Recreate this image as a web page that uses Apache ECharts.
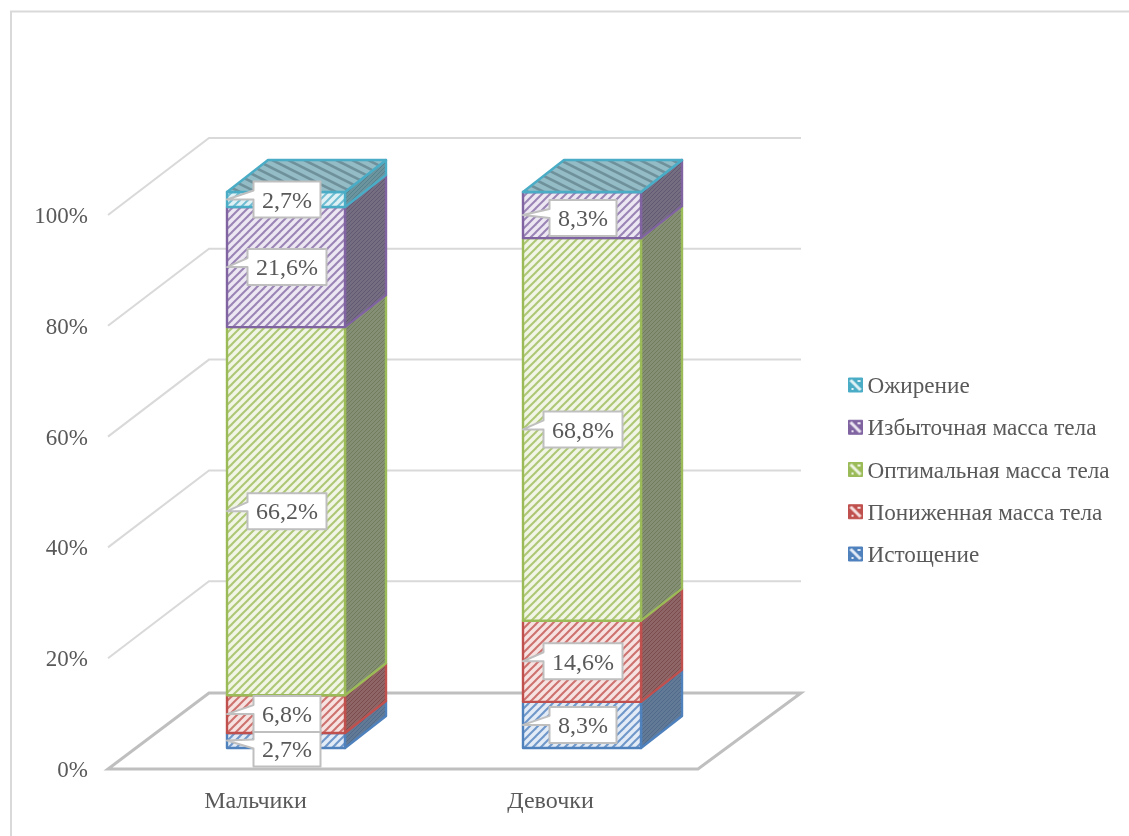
<!DOCTYPE html>
<html>
<head>
<meta charset="utf-8">
<title>Индекс массы тела</title>
<script src="https://cdn.jsdelivr.net/npm/echarts@6/dist/echarts.min.js"></script>
<style>
  html, body { margin: 0; padding: 0; background: #fff; }
  #chart { width: 1129px; height: 836px; }
</style>
</head>
<body>
<div id="chart"></div>
<script>
// Chart values, in percent
const categories = ['Мальчики', 'Девочки'];
const seriesNames = ['Истощение', 'Пониженная масса тела', 'Оптимальная масса тела', 'Избыточная масса тела', 'Ожирение'];
const exhausted = [2.7, 8.3];
const underweight = [6.8, 14.6];
const optimal = [66.2, 68.8];
const overweight = [21.6, 8.3];
const obese = [2.7, 0];
const axisTicks = [0, 20, 40, 60, 80, 100];

const seriesValues = [exhausted, underweight, optimal, overweight, obese];

// Look of each stack segment: edge, hatch, tint and shaded side colours
const palette = [
  { edge: '#4f81bd', hatch: '#6f97c9', tint: '#e2ebf6', side: '#627a96', sideLine: '#4f6a8a' },
  { edge: '#c0504d', hatch: '#cd716e', tint: '#f6e2e1', side: '#8f6667', sideLine: '#7c4c4d' },
  { edge: '#9bbb59', hatch: '#aec775', tint: '#f0f5e5', side: '#858f75', sideLine: '#6f7d5a' },
  { edge: '#8064a2', hatch: '#9a83b5', tint: '#ece7f2', side: '#756d80', sideLine: '#625873' },
  { edge: '#4bacc6', hatch: '#70bdd2', tint: '#e0f1f5', side: '#6b949f', sideLine: '#56828e' }
];

const FONT = '"Liberation Serif", "Times New Roman", serif';
const TEXT_COLOR = '#595959';

// Oblique projection of the box depth
const BOX_DX = 41;
const BOX_DY = 32;
const WALL_DX = 101;
const WALL_DY = 76;
const BAR_WIDTH = 118;

function tile(w, h, paint) {
  const c = document.createElement('canvas');
  c.width = w;
  c.height = h;
  paint(c.getContext('2d'), w, h);
  return { image: c, repeat: 'repeat' };
}

// Wide upward diagonal hatch on the front faces
function frontHatch(line, tint) {
  return tile(8, 8, function (g, w, h) {
    g.fillStyle = tint;
    g.fillRect(0, 0, w, h);
    g.strokeStyle = line;
    g.lineWidth = 2;
    for (let k = -w; k <= w; k += w) {
      g.beginPath();
      g.moveTo(k - 1, h + 1);
      g.lineTo(k + w + 1, -1);
      g.stroke();
    }
  });
}

// Fine hatch on the shaded side faces
function sideHatch(base, line) {
  return tile(4, 4, function (g, w, h) {
    g.fillStyle = base;
    g.fillRect(0, 0, w, h);
    g.strokeStyle = line;
    g.lineWidth = 1;
    for (let k = -w; k <= w; k += w) {
      g.beginPath();
      g.moveTo(k - 1, h + 1);
      g.lineTo(k + w + 1, -1);
      g.stroke();
    }
  });
}

// Shallow downward hatch on the lid of the stack
const lidHatch = tile(16, 8, function (g, w, h) {
  g.fillStyle = '#93bcc6';
  g.fillRect(0, 0, w, h);
  g.strokeStyle = '#6f919b';
  g.lineWidth = 2.6;
  for (let k = -h; k <= h; k += h) {
    g.beginPath();
    g.moveTo(-2, k - 1);
    g.lineTo(w + 2, k + h + 1);
    g.stroke();
  }
});

const legendHatch = palette.map(function (p) {
  return tile(14, 14, function (g, w, h) {
    g.fillStyle = p.edge;
    g.fillRect(0, 0, w, h);
    g.strokeStyle = p.tint;
    g.lineWidth = 3;
    g.beginPath();
    g.moveTo(2, 2);
    g.lineTo(w - 2, h - 2);
    g.stroke();
    g.fillStyle = p.tint;
    g.fillRect(3, 10, 2, 2);
    g.fillRect(9, 2, 3, 2);
  });
});

const fronts = palette.map(function (p) { return frontHatch(p.hatch, p.tint); });
const sides = palette.map(function (p) { return sideHatch(p.side, p.sideLine); });

// Cumulative base of each segment in each stack
function stackBase(seriesIdx, catIdx) {
  let sum = 0;
  for (let s = 0; s < seriesIdx; s++) sum += seriesValues[s][catIdx];
  return sum;
}

function pct(v) {
  return v.toFixed(1).replace('.', ',') + '%';
}

function renderWall(params, api) {
  const cs = params.coordSys;
  const y = api.coord([0, api.value(1)])[1];
  const left = cs.x;
  const isFloor = api.value(1) === 0;
  if (isFloor) {
    return {
      type: 'polygon',
      shape: { points: [[left, y], [left + cs.width, y], [left + cs.width + 103, y - WALL_DY], [left + WALL_DX, y - WALL_DY]] },
      style: { fill: 'none', stroke: '#bfbfbf', lineWidth: 3 }
    };
  }
  return {
    type: 'polyline',
    shape: { points: [[left, y], [left + WALL_DX, y - WALL_DY - 1], [left + cs.width + 103, y - WALL_DY - 1]] },
    style: { fill: 'none', stroke: '#d9d9d9', lineWidth: 2 }
  };
}

function renderSegment(seriesIdx) {
  return function (params, api) {
    const catIdx = api.value(0);
    const base = stackBase(seriesIdx, catIdx);
    const p0 = api.coord([catIdx, base]);
    const p1 = api.coord([catIdx, base + api.value(1)]);
    const l = p0[0] - BAR_WIDTH / 2;
    const r = l + BAR_WIDTH;
    const yb = p0[1];
    const yt = p1[1];
    const edge = palette[seriesIdx].edge;
    const children = [
      {
        type: 'polygon',
        shape: { points: [[r, yb], [r + BOX_DX, yb - BOX_DY], [r + BOX_DX, yt - BOX_DY], [r, yt]] },
        style: { fill: sides[seriesIdx], stroke: edge, lineWidth: 2.4, lineJoin: 'round' }
      },
      {
        type: 'rect',
        shape: { x: l, y: yt, width: BAR_WIDTH, height: yb - yt },
        style: { fill: fronts[seriesIdx], stroke: edge, lineWidth: 2.4, lineJoin: 'round' }
      }
    ];
    if (seriesIdx === seriesNames.length - 1) {
      children.push({
        type: 'polygon',
        shape: { points: [[l, yt], [r, yt], [r + BOX_DX, yt - BOX_DY], [l + BOX_DX, yt - BOX_DY]] },
        style: { fill: lidHatch, stroke: edge, lineWidth: 2.4, lineJoin: 'round' }
      });
    }
    return { type: 'group', children: children };
  };
}

// Value callouts: a white box with a wedge reaching the stack's left edge
const BOX_HEIGHT = 36;
const CROWDED_SHIFT = { '0:0': 8, '1:3': 3 };

function renderCallout(params, api) {
  const catIdx = api.value(0);
  const seriesIdx = api.value(2);
  const value = api.value(1);
  const mid = stackBase(seriesIdx, catIdx) + value / 2;
  const at = api.coord([catIdx, mid]);
  const text = pct(value);
  const w = text.length > 4 ? 79 : 67;
  const cx = at[0] + 1;
  const cy = at[1] + (CROWDED_SHIFT[catIdx + ':' + seriesIdx] || 0);
  const tipX = at[0] - BAR_WIDTH / 2;
  const x0 = cx - w / 2;
  const x1 = cx + w / 2;
  const y0 = cy - BOX_HEIGHT / 2;
  const y1 = cy + BOX_HEIGHT / 2;
  return {
    type: 'group',
    children: [
      {
        type: 'polygon',
        shape: { points: [[x0, y0], [x1, y0], [x1, y1], [x0, y1], [x0, cy], [tipX, at[1]], [x0, cy - 9]] },
        style: { fill: '#fff', stroke: '#bfbfbf', lineWidth: 2, lineJoin: 'round' }
      },
      {
        type: 'text',
        style: {
          x: cx, y: cy + 2, text: text, fill: TEXT_COLOR,
          font: '24px ' + FONT, textAlign: 'center', textVerticalAlign: 'middle'
        }
      }
    ]
  };
}

const segmentSeries = seriesNames.map(function (name, s) {
  return {
    type: 'custom',
    name: name,
    xAxisIndex: 1,
    yAxisIndex: 1,
    z: 3 + s,
    renderItem: renderSegment(s),
    itemStyle: { color: palette[s].edge },
    data: categories.map(function (c, i) { return [i, seriesValues[s][i]]; })
  };
});

const calloutData = [];
seriesValues.forEach(function (vals, s) {
  vals.forEach(function (v, i) {
    if (v > 0) calloutData.push([i, v, s]);
  });
});

const option = {
  animation: false,
  backgroundColor: '#fff',
  graphic: [{
    type: 'polyline',
    silent: true,
    shape: { points: [[11, 840], [11, 11.5], [1135, 11.5]] },
    style: { fill: 'none', stroke: '#d9d9d9', lineWidth: 2 }
  }],
  // First grid carries the labelled wall plane, second one the plane of the stacks
  grid: [
    { left: 108, right: 431, top: 215, bottom: 67 },
    { left: 138, right: 399, top: 192, bottom: 88 }
  ],
  xAxis: [
    {
      type: 'category', gridIndex: 0, data: categories,
      axisLine: { show: false }, axisTick: { show: false }, splitLine: { show: false },
      axisLabel: { color: TEXT_COLOR, fontFamily: FONT, fontSize: 24, margin: 21 }
    },
    { type: 'category', gridIndex: 1, data: categories, show: false }
  ],
  yAxis: [
    {
      type: 'value', gridIndex: 0, min: 0, max: 100, interval: 20,
      axisLine: { show: false }, axisTick: { show: false }, splitLine: { show: false },
      axisLabel: {
        color: TEXT_COLOR, fontFamily: FONT, fontSize: 23, margin: 20,
        formatter: '{v|{value}%}',
        rich: { v: { color: TEXT_COLOR, fontFamily: FONT, fontSize: 23, padding: [4, 0, 0, 0] } }
      }
    },
    { type: 'value', gridIndex: 1, min: 0, max: 100, show: false, splitLine: { show: false } }
  ],
  legend: {
    orient: 'vertical',
    left: 843,
    top: 367,
    itemWidth: 14,
    itemHeight: 14,
    itemGap: 15.75,
    selectedMode: false,
    formatter: '{t|{name}}',
    textStyle: {
      color: TEXT_COLOR, fontFamily: FONT, fontSize: 23.2, lineHeight: 26,
      rich: { t: { color: TEXT_COLOR, fontFamily: FONT, fontSize: 23.2, height: 26, padding: [4, 0, 0, 0] } }
    },
    data: seriesNames.slice().reverse().map(function (name) {
      const s = seriesNames.indexOf(name);
      return {
        name: name,
        icon: 'rect',
        itemStyle: { color: legendHatch[s], borderColor: palette[s].edge, borderWidth: 1 }
      };
    })
  },
  series: [
    {
      type: 'custom',
      name: 'Стенки',
      xAxisIndex: 0,
      yAxisIndex: 0,
      z: 1,
      silent: true,
      renderItem: renderWall,
      data: axisTicks.slice().reverse().map(function (t) { return [0, t]; })
    }
  ].concat(segmentSeries, [
    {
      type: 'custom',
      name: 'Подписи',
      xAxisIndex: 1,
      yAxisIndex: 1,
      z: 20,
      silent: true,
      renderItem: renderCallout,
      data: calloutData
    }
  ])
};

echarts.init(document.getElementById('chart')).setOption(option);
</script>
</body>
</html>
